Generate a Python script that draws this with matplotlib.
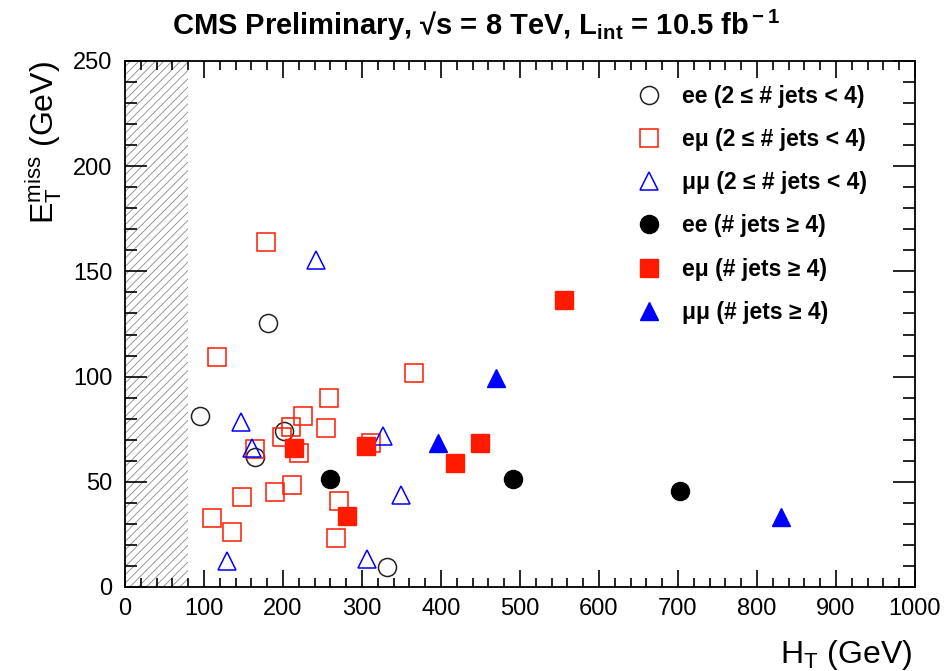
import matplotlib.pyplot as plt
from matplotlib.ticker import MultipleLocator

plt.rcParams['font.family'] = ['Liberation Sans', 'DejaVu Sans']
plt.rcParams['mathtext.fontset'] = 'custom'
plt.rcParams['mathtext.rm'] = 'Liberation Sans'
plt.rcParams['mathtext.it'] = 'Liberation Sans'
plt.rcParams['mathtext.bf'] = 'Liberation Sans:bold'
plt.rcParams['hatch.linewidth'] = 0.6

# H_T, MET per channel and jet multiplicity
ee_lo_ht = [94.5, 181, 201, 164.4, 331.8]
ee_lo_met = [81.3, 125.7, 74.3, 61.6, 9.5]

em_lo_ht = [178, 116, 365.6, 258, 225.6, 209.6, 199, 254.7, 164.4, 220,
            311.6, 189.3, 211.7, 148.5, 270.6, 109.7, 135.8, 266.5]
em_lo_met = [164, 109.5, 101.9, 90, 81.4, 76.2, 71.4, 75.4, 65.6, 63.8,
             68.3, 45.2, 48.4, 42.9, 40.8, 33, 25.9, 23.5]

mm_lo_ht = [242, 147.2, 161, 326.8, 350, 128.6, 306.5]
mm_lo_met = [155.2, 78.6, 65.9, 71.8, 43.7, 12.4, 13.5]

ee_hi_ht = [259.3, 491.2, 702.7]
ee_hi_met = [51.1, 51.3, 45.6]

em_hi_ht = [213.7, 305.7, 280.4, 417.5, 449, 555.2]
em_hi_met = [66.2, 67, 33.7, 58.8, 68.6, 136.2]

mm_hi_ht = [395.9, 470, 830]
mm_hi_met = [68.3, 99.5, 33.3]

ht_cut = 80

red = '#ff1a00'
blue = '#0000ff'

fig = plt.figure(figsize=(9.52, 6.71), dpi=100)
ax = fig.add_axes([0.1313, 0.1252, 0.8298, 0.7839])

# excluded low-H_T region
ax.axvspan(0, ht_cut, facecolor='white', edgecolor='#8a8a8a', hatch='////',
           lw=0, zorder=0)

ms = 13
ax.plot(ee_lo_ht, ee_lo_met, 'o', ms=ms, mfc='none', mec='#222222', mew=1.1,
        label='ee (2 ≤ # jets < 4)')
ax.plot(em_lo_ht, em_lo_met, 's', ms=ms, mfc='none', mec=red, mew=1.1,
        label='eμ (2 ≤ # jets < 4)')
ax.plot(mm_lo_ht, mm_lo_met, '^', ms=ms, mfc='none', mec=blue, mew=1.1,
        label='μμ (2 ≤ # jets < 4)')
ax.plot(ee_hi_ht, ee_hi_met, 'o', ms=ms, color='black',
        label='ee (# jets ≥ 4)')
ax.plot(em_hi_ht, em_hi_met, 's', ms=ms, color=red,
        label='eμ (# jets ≥ 4)')
ax.plot(mm_hi_ht, mm_hi_met, '^', ms=ms, color=blue,
        label='μμ (# jets ≥ 4)')

ax.set_xlim(0, 1000)
ax.set_ylim(0, 250)
ax.xaxis.set_major_locator(MultipleLocator(100))
ax.xaxis.set_minor_locator(MultipleLocator(20))
ax.yaxis.set_major_locator(MultipleLocator(50))
ax.yaxis.set_minor_locator(MultipleLocator(10))
ax.tick_params(axis='both', which='both', direction='in', top=True,
               right=True, labelsize=17, width=1.2)
ax.tick_params(axis='x', which='major', length=12, pad=8)
ax.tick_params(axis='x', which='minor', length=6.5)
ax.tick_params(axis='y', which='major', length=16, pad=9)
ax.tick_params(axis='y', which='minor', length=8.5)
for s in ax.spines.values():
    s.set_linewidth(1.3)

ax.set_xlabel(r'H$_{\rm T}$ (GeV)', fontsize=23, ha='right', x=1.0)
ax.set_ylabel(r'E$_{\rm T}^{\rm miss}$ (GeV)', fontsize=23, ha='right', y=1.0)
ax.xaxis.set_label_coords(0.9965, -0.097)
ax.yaxis.set_label_coords(-0.077, 1.0)

fig.text(0.5, 0.962,
         r'CMS Preliminary, √s = 8 TeV, L$_{\bf int}$ = 10.5 fb$^{\bf -1}$',
         fontsize=21, fontweight='bold', ha='center', va='center')

leg = ax.legend(loc='upper left', bbox_to_anchor=(0.63, 0.972), frameon=False,
                prop={'size': 16.5, 'weight': 'bold'}, labelspacing=0.88,
                handletextpad=0.7, borderaxespad=0, handlelength=1.5)

fig.savefig('out.png', dpi=100)
